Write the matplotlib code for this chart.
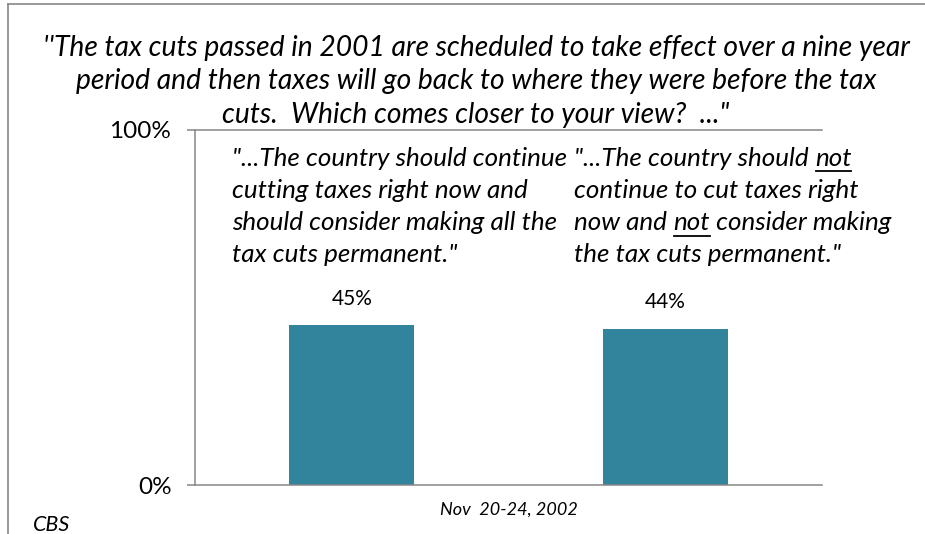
import matplotlib
matplotlib.use("Agg")
import matplotlib.pyplot as plt
from matplotlib.lines import Line2D

W, H = 925, 534

QUESTION = [
    "''The tax cuts passed in 2001 are scheduled to take effect over a nine year",
    "period and then taxes will go back to where they were before the tax",
    "cuts.  Which comes closer to your view?  ...\"",
]
# each answer is a list of lines; a line is a list of (text, underlined) runs
ANSWERS = [
    [[("\"...The country should continue", False)],
     [("cutting taxes right now and", False)],
     [("should consider making all the", False)],
     [("tax cuts permanent.\"", False)]],
    [[("\"...The country should ", False), ("not", True)],
     [("continue to cut taxes right", False)],
     [("now and ", False), ("not", True), (" consider making", False)],
     [("the tax cuts permanent.\"", False)]],
]
VALUES = [45, 44]
PERIOD = "Nov  20-24, 2002"
SOURCE = "CBS"

BAR_COLOR = "#31849b"
LINE_GRAY = "#868686"
FONT = ["Lato", "DejaVu Sans"]

plt.rcParams["font.family"] = FONT


def fx(px):
    return px / W


def fy(py):
    return 1 - py / H


fig = plt.figure(figsize=(W / 100, H / 100), dpi=100)
renderer = fig.canvas.get_renderer()

# outer frame, only the left and top edges fall inside the image
fig.add_artist(Line2D([fx(8), fx(8)], [fy(4), 0], color=LINE_GRAY, lw=1.2))
fig.add_artist(Line2D([fx(8), 1.01], [fy(4), fy(4)], color=LINE_GRAY, lw=1.2))

ax = fig.add_axes([fx(195), fy(485), fx(822) - fx(195), fy(130) - fy(485)])
xs = list(range(len(VALUES)))
bars = ax.bar(xs, VALUES, width=0.4, color=BAR_COLOR)
ax.set_xlim(-0.5, 1.5)
ax.set_ylim(0, 100)
ax.set_yticks([0, 100])
ax.set_yticklabels(["0%", "100%"], fontsize=17.5)
ax.set_xticks([])
ax.axhline(100, color=LINE_GRAY, lw=1.1, clip_on=False)
for side in ("top", "right"):
    ax.spines[side].set_visible(False)
for side in ("left", "bottom"):
    ax.spines[side].set_color(LINE_GRAY)
    ax.spines[side].set_linewidth(1.1)
ax.tick_params(axis="y", length=6, width=1.1, color=LINE_GRAY, pad=11,
               labelcolor="black")

for x, v in zip(xs, VALUES):
    ax.annotate(f"{v}%", (x, v), xytext=(0, 12), textcoords="offset points",
                ha="center", va="bottom", fontsize=15)

ax.set_xlabel(PERIOD, style="italic", fontsize=13, labelpad=12)

for i, line in enumerate(QUESTION[:2]):
    fig.text(fx(476), fy(48 + 33.5 * i), line, ha="center", va="center",
             style="italic", fontsize=20.3)
fig.text(fx(222), fy(115), QUESTION[2], ha="left", va="center",
         style="italic", fontsize=20.3)


def draw_runs(x0, y0, runs, size):
    # draw runs left to right, underlining the flagged ones
    x = x0
    for text, under in runs:
        fig.text(fx(x), fy(y0), text, ha="left", va="center",
                 style="italic", fontsize=size)
        # advance by the width of text+"x" minus "x" so spaces count
        probe = fig.text(0, 0, text + "x", style="italic", fontsize=size)
        probe2 = fig.text(0, 0, "x", style="italic", fontsize=size)
        wa = probe.get_window_extent(renderer).width
        wb = probe2.get_window_extent(renderer).width
        probe.remove()
        probe2.remove()
        w = wa - wb
        if under:
            fig.add_artist(Line2D([fx(x + 1), fx(x + w)],
                                  [fy(y0 + 13), fy(y0 + 13)],
                                  color="black", lw=1.3))
        x += w


for x0, answer in zip([232, 574], ANSWERS):
    for j, runs in enumerate(answer):
        draw_runs(x0, 158 + 32.3 * j, runs, 18.7)

fig.text(fx(33), fy(525), SOURCE, ha="left", va="center", style="italic",
         fontsize=15.5)

fig.savefig("out.png", dpi=100)
